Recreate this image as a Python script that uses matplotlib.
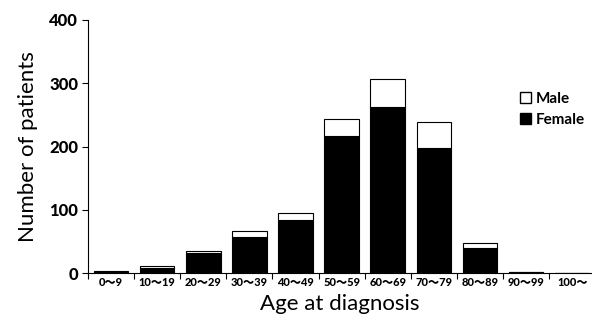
import numpy as np
import matplotlib
matplotlib.use("Agg")
import matplotlib.pyplot as plt
from matplotlib.patches import Patch

age_groups = ["0〜9", "10〜19", "20〜29", "30〜39", "40〜49", "50〜59",
              "60〜69", "70〜79", "80〜89", "90〜99", "100〜"]
female = [2, 8, 32, 57, 84, 217, 262, 198, 40, 1, 0]
male = [1, 3, 3, 9, 11, 26, 45, 41, 7, 1, 0]

tick_font = ["Lato", "Noto Sans CJK JP", "DejaVu Sans"]

fig = plt.figure(figsize=(5.92, 3.21), dpi=100)
ax = fig.add_axes([88 / 592, 1 - 273 / 321, 504 / 592, 253 / 321])

x = np.arange(len(age_groups))
ax.bar(x, female, width=0.75, color="black", edgecolor="black", linewidth=0.8)
ax.bar(x, male, width=0.75, bottom=female, color="white", edgecolor="black", linewidth=0.8)

ax.set_xlim(-0.41, 10.43)
ax.set_ylim(0, 400)
ax.set_yticks([0, 100, 200, 300, 400])
ax.set_yticklabels(["0", "100", "200", "300", "400"], fontsize=12, fontweight="black",
                   family=["Lato", "DejaVu Sans"])

# labels in the middle, tick marks between the groups
ax.set_xticks(x)
ax.set_xticklabels(age_groups, fontsize=8, fontweight="black", family=tick_font)
ax.tick_params(axis="x", length=0, pad=3)
ax.set_xticks(np.arange(-0.5, 10.5, 1), minor=True)
ax.tick_params(axis="x", which="minor", length=4, direction="out", width=0.8)
ax.tick_params(axis="y", length=4, width=0.8, pad=3)

for s in ["top", "right"]:
    ax.spines[s].set_visible(False)
ax.spines["left"].set_linewidth(0.8)
ax.spines["bottom"].set_linewidth(0.8)

ax.set_ylabel("Number of patients", fontsize=16, family=["Lato", "DejaVu Sans"], labelpad=8)
ax.set_xlabel("Age at diagnosis", fontsize=16, family=["Lato", "DejaVu Sans"], labelpad=4)

handles = [Patch(facecolor="white", edgecolor="black", label="Male"),
           Patch(facecolor="black", edgecolor="black", label="Female")]
ax.legend(handles=handles, loc="upper left", bbox_to_anchor=(0.83, 0.77), frameon=False,
          handlelength=0.7, handleheight=0.7, handletextpad=0.3, labelspacing=0.45,
          prop={"family": ["Lato", "DejaVu Sans"], "weight": "bold", "size": 11})

fig.savefig("out.png", dpi=100)
